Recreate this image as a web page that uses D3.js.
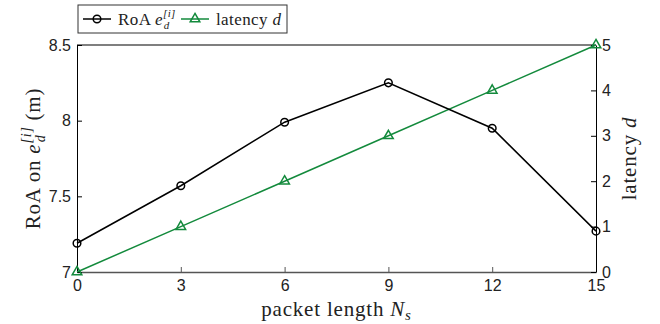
<!DOCTYPE html>
<html>
<head>
<meta charset="utf-8">
<script src="https://cdn.jsdelivr.net/npm/d3@7"></script>
<style>
  body { margin: 0; background: #fff; }
  .tick text { font-family: "Liberation Sans", Arial, sans-serif; font-size: 16px; fill: #222; }
  .lbl { font-family: "Liberation Serif", "Times New Roman", serif; font-size: 21px; fill: #222; letter-spacing: 0.8px; }
  .leg { font-family: "Liberation Serif", "Times New Roman", serif; font-size: 17px; fill: #222; letter-spacing: 0.4px; }
</style>
</head>
<body>
<div id="chart"></div>
<script>
// data
const packetLength = [0, 3, 6, 9, 12, 15];
const roa = [7.19, 7.57, 7.99, 8.25, 7.95, 7.27];
const latency = [0, 1, 2, 3, 4, 5];
const xTicks = [0, 3, 6, 9, 12, 15];
const leftTicks = [7, 7.5, 8, 8.5];
const rightTicks = [0, 1, 2, 3, 4, 5];

const width = 660, height = 324;
const margin = { top: 45, right: 64, bottom: 52, left: 77 };
const green = '#138a3c';

const svg = d3.select('#chart').append('svg')
    .attr('width', width)
    .attr('height', height);

const x = d3.scaleLinear().domain([0, 15]).range([margin.left, width - margin.right]);
const yL = d3.scaleLinear().domain([7, 8.5]).range([height - margin.bottom, margin.top]);
const yR = d3.scaleLinear().domain([0, 5]).range([height - margin.bottom, margin.top]);

// box top
svg.append('line')
    .attr('x1', x(0)).attr('x2', x(15))
    .attr('y1', yL(8.5)).attr('y2', yL(8.5))
    .attr('stroke', '#555').attr('stroke-width', 1.5);

const xAxis = svg.append('g')
    .attr('transform', `translate(0,${height - margin.bottom})`)
    .call(d3.axisBottom(x).tickValues(xTicks).tickSizeInner(-5).tickSizeOuter(0).tickPadding(8));
xAxis.select('.domain').attr('stroke', '#555').attr('stroke-width', 1.5);
xAxis.selectAll('.tick line').attr('stroke', '#555');

const leftAxis = svg.append('g')
    .attr('transform', `translate(${margin.left},0)`)
    .call(d3.axisLeft(yL).tickValues(leftTicks).tickFormat(d3.format('')).tickSizeInner(-5).tickSizeOuter(0).tickPadding(6));
leftAxis.select('.domain').attr('stroke', '#000');
leftAxis.selectAll('.tick line').attr('stroke', '#000');

const rightAxis = svg.append('g')
    .attr('transform', `translate(${width - margin.right},0)`)
    .call(d3.axisRight(yR).tickValues(rightTicks).tickFormat(d3.format('d')).tickSizeInner(-5).tickSizeOuter(0).tickPadding(6));
rightAxis.select('.domain').attr('stroke', '#000');
rightAxis.selectAll('.tick line').attr('stroke', '#000');

// latency series (right axis)
const latLine = d3.line().x((d, i) => x(packetLength[i])).y(d => yR(d));
svg.append('path')
    .datum(latency)
    .attr('d', latLine)
    .attr('fill', 'none')
    .attr('stroke', green)
    .attr('stroke-width', 1.5);

const tri = d3.symbol().type(d3.symbolTriangle).size(40);
svg.selectAll('.tri')
    .data(latency)
  .enter().append('path')
    .attr('class', 'tri')
    .attr('d', tri)
    .attr('transform', (d, i) => `translate(${x(packetLength[i])},${yR(d)})`)
    .attr('fill', 'none')
    .attr('stroke', green)
    .attr('stroke-width', 1.5);

// RoA series (left axis)
const roaLine = d3.line().x((d, i) => x(packetLength[i])).y(d => yL(d));
svg.append('path')
    .datum(roa)
    .attr('d', roaLine)
    .attr('fill', 'none')
    .attr('stroke', '#000')
    .attr('stroke-width', 1.5);

svg.selectAll('.circ')
    .data(roa)
  .enter().append('circle')
    .attr('class', 'circ')
    .attr('cx', (d, i) => x(packetLength[i]))
    .attr('cy', d => yL(d))
    .attr('r', 3.8)
    .attr('fill', 'none')
    .attr('stroke', '#000')
    .attr('stroke-width', 1.5);

// axis labels
const xl = svg.append('text').attr('class', 'lbl')
    .attr('x', (x(0) + x(15)) / 2).attr('y', 316)
    .attr('text-anchor', 'middle');
xl.append('tspan').text('packet length ');
xl.append('tspan').attr('font-style', 'italic').text('N');
xl.append('tspan').attr('font-style', 'italic').attr('font-size', 15).attr('dy', 4).text('s');

const yl = svg.append('text').attr('class', 'lbl')
    .attr('transform', `translate(40,${(yL(7) + yL(8.5)) / 2}) rotate(-90)`)
    .attr('text-anchor', 'middle');
yl.append('tspan').text('RoA on ');
yl.append('tspan').attr('font-style', 'italic').text('e');
yl.append('tspan').attr('font-style', 'italic').attr('font-size', 14).attr('dy', -9).text('[i]');
yl.append('tspan').attr('font-style', 'italic').attr('font-size', 14).attr('dx', -16).attr('dy', 14).text('d');
yl.append('tspan').attr('dx', 14).attr('dy', -5).text('(m)');

const yr = svg.append('text').attr('class', 'lbl')
    .attr('transform', `translate(636,${(yR(0) + yR(5)) / 2}) rotate(-90)`)
    .attr('text-anchor', 'middle');
yr.append('tspan').text('latency ');
yr.append('tspan').attr('font-style', 'italic').text('d');

// legend
const leg = svg.append('g').attr('transform', 'translate(78,5)');
leg.append('rect')
    .attr('width', 209).attr('height', 28)
    .attr('fill', '#fff').attr('stroke', '#333').attr('stroke-width', 1);
leg.append('line').attr('x1', 5).attr('x2', 33).attr('y1', 14).attr('y2', 14)
    .attr('stroke', '#000').attr('stroke-width', 1.5);
leg.append('circle').attr('cx', 19).attr('cy', 14).attr('r', 3.8)
    .attr('fill', 'none').attr('stroke', '#000').attr('stroke-width', 1.5);
const t1 = leg.append('text').attr('class', 'leg').attr('x', 40).attr('y', 20);
t1.append('tspan').text('RoA ');
t1.append('tspan').attr('font-style', 'italic').text('e');
t1.append('tspan').attr('font-style', 'italic').attr('font-size', 11).attr('dy', -8).text('[i]');
t1.append('tspan').attr('font-style', 'italic').attr('font-size', 11).attr('dx', -12).attr('dy', 12).text('d');

leg.append('line').attr('x1', 103).attr('x2', 131).attr('y1', 14).attr('y2', 14)
    .attr('stroke', green).attr('stroke-width', 1.5);
leg.append('path').attr('d', tri).attr('transform', 'translate(117,14)')
    .attr('fill', 'none').attr('stroke', green).attr('stroke-width', 1.5);
const t2 = leg.append('text').attr('class', 'leg').attr('x', 138).attr('y', 20);
t2.append('tspan').text('latency ');
t2.append('tspan').attr('font-style', 'italic').text('d');
</script>
</body>
</html>
